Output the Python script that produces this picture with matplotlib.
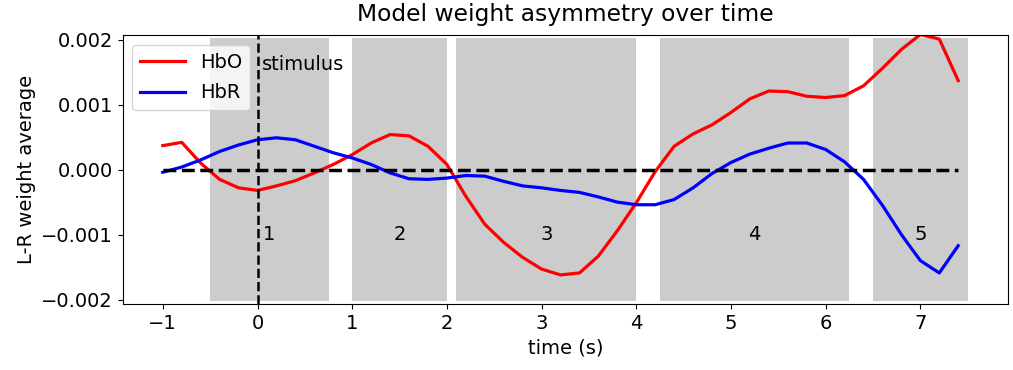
import matplotlib
matplotlib.use("Agg")
import matplotlib.pyplot as plt
import numpy as np

# time axis (s), 0.2 s steps
time = [-1.0, -0.8, -0.6, -0.4, -0.2, 0.0, 0.2, 0.4, 0.6, 0.8,
        1.0, 1.2, 1.4, 1.6, 1.8, 2.0, 2.2, 2.4, 2.6, 2.8,
        3.0, 3.2, 3.4, 3.6, 3.8, 4.0, 4.2, 4.4, 4.6, 4.8,
        5.0, 5.2, 5.4, 5.6, 5.8, 6.0, 6.2, 6.4, 6.6, 6.8,
        7.0, 7.2, 7.4]

hbo = [0.00037, 0.00042, 0.00010, -0.00015, -0.00028, -0.00032, -0.00025, -0.00017, -0.00005, 0.00008,
       0.00023, 0.00041, 0.00054, 0.00052, 0.00036, 0.00008, -0.00041, -0.00084, -0.00112, -0.00135,
       -0.00153, -0.00162, -0.00159, -0.00133, -0.00094, -0.00051, -0.00003, 0.00036, 0.00055, 0.00069,
       0.00088, 0.00109, 0.00121, 0.00120, 0.00113, 0.00111, 0.00114, 0.00129, 0.00156, 0.00185,
       0.00208, 0.00201, 0.00137]

hbr = [-0.00004, 0.00004, 0.00015, 0.00028, 0.00038, 0.00046, 0.00049, 0.00046, 0.00036, 0.00026,
       0.00018, 0.00008, -0.00005, -0.00014, -0.00015, -0.00013, -0.00009, -0.00010, -0.00018, -0.00025,
       -0.00028, -0.00032, -0.00035, -0.00042, -0.00050, -0.00054, -0.00054, -0.00046, -0.00028, -0.00006,
       0.00011, 0.00024, 0.00033, 0.00041, 0.00041, 0.00031, 0.00012, -0.00015, -0.00055, -0.00100,
       -0.00140, -0.00159, -0.00117]

# shaded windows (start, end) and their labels
windows = [(-0.5, 0.75), (1.0, 2.0), (2.1, 4.0), (4.25, 6.25), (6.5, 7.5)]
window_labels = ["1", "2", "3", "4", "5"]

plt.rcParams['font.size'] = 14

fig = plt.figure(figsize=(10.13, 3.7), dpi=100)
ax = fig.add_axes([0.121, 0.178, 0.874, 0.727])

for (start, end), lab in zip(windows, window_labels):
    ax.axvspan(start, end, ymin=0.01, ymax=0.99, color='gray', alpha=0.4, lw=0)
    ax.text((start + end) / 2, -0.001, lab, ha='center', va='center')

ax.plot(time, hbo, color='red', lw=2.3, label='HbO')
ax.plot(time, hbr, color='blue', lw=2.3, label='HbR')
ax.plot(time, np.zeros(len(time)), 'k--', lw=2.5)
ax.axvline(0, color='k', ls='--', lw=1.8)
ax.text(0.05, 0.00162, 'stimulus', ha='left', va='center')

ax.set_xticks(np.arange(-1, 8))
ax.set_ylim(-0.00207, 0.00207)
ax.set_yticks([-0.002, -0.001, 0.0, 0.001, 0.002])
ax.set_yticklabels(['\u22120.002', '\u22120.001', '0.000', '0.001', '0.002'])
ax.set_title('Model weight asymmetry over time', pad=10)
ax.set_xlabel('time (s)')
ax.set_ylabel('L-R weight average')
ax.legend(loc='upper left', handlelength=2.3, labelspacing=0.6)

fig.savefig('out.png', dpi=100)
